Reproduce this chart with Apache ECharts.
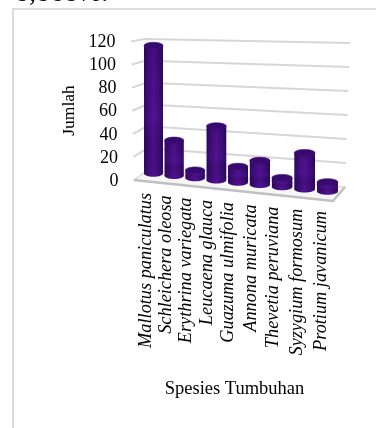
<!DOCTYPE html>
<html>
<head>
<meta charset="utf-8">
<style>html,body{margin:0;padding:0;background:#fff;overflow:hidden}#chart{width:376px;height:428px}</style>
<script src="https://cdn.jsdelivr.net/npm/echarts@6/dist/echarts.min.js"></script>
</head>
<body>
<div id="chart"></div>
<script>
// Jumlah individu per spesies tumbuhan
const categories = ['Mallotus paniculatus','Schleichera oleosa','Erythrina variegata','Leucaena glauca','Guazuma ulmifolia','Annona muricata','Thevetia peruviana','Syzygium formosum','Protium javanicum'];
const jumlah = [117, 32, 7, 48, 14, 21, 8, 31, 8];
const yTicks = [0, 20, 40, 60, 80, 100, 120];

const serif = '"Liberation Serif","Times New Roman",serif';
const yMax = 120;

// Tilted-box projection applied on top of the flat cartesian plot.
// u runs 0..1 across the plot width, f is value / yMax.
function backWall(u, f) {
  const base = 170 + 17 * u;
  const rise = 131 + 13 * u;
  return [148 + 197 * u + f * (-3 + 8 * u), base - f * rise];
}
function wallDepth(f) { return [-14, 10 - 7.5 * f]; }

function frontLeft(f) {
  const p = backWall(0, f), d = wallDepth(f);
  return [p[0] + d[0], p[1] + d[1]];
}

const wallSeries = {
  type: 'custom', z: 1, silent: true,
  data: yTicks.map(t => [0, t]),
  renderItem(params, api) {
    const v = api.value(1);
    const f = (api.coord([0, 0])[1] - api.coord([0, v])[1]) / params.coordSys.height;
    const a = frontLeft(f), b = backWall(0, f), c = backWall(1, f);
    const children = [];
    if (v > 0) {
      children.push({
        type: 'polyline',
        shape: { points: [a, b, c] },
        style: { fill: 'none', stroke: '#d6d6d6', lineWidth: 2 }
      });
    }
    children.push({
      type: 'text', x: a[0] - 15.5, y: a[1] + 1,
      style: { text: String(v), align: 'right', verticalAlign: 'middle', font: '18px ' + serif, fill: '#000' }
    });
    return { type: 'group', children };
  }
};

const floorSeries = {
  type: 'custom', z: 2, silent: true,
  data: [[0, 0]],
  renderItem() {
    const bl = backWall(0, 0), br = backWall(1, 0);
    const fl = [bl[0] - 14, bl[1] + 10], fr = [br[0] - 12, br[1] + 14];
    return {
      type: 'group',
      children: [
        { type: 'polygon', shape: { points: [bl, br, fr, fl] }, style: { fill: '#f6f6f6', stroke: '#d8d8d8', lineWidth: 1.5 } },
        { type: 'polyline', shape: { points: [fl, fr, br] }, style: { fill: 'none', stroke: '#c0c0c0', lineWidth: 2.4 } }
      ]
    };
  }
};

const barSeries = {
  type: 'custom', z: 3, silent: true,
  data: jumlah.map((v, i) => [i, v]),
  renderItem(params, api) {
    const t = api.value(0);
    const band = api.size([1, 0])[0];
    const cs = params.coordSys;
    const y0 = api.coord([t, 0])[1];
    const flatX = api.coord([t, 0])[0];
    const step = (flatX - cs.x) / band - 0.5;
    // Spacing, width and height grow slightly toward the near side of the box.
    const cx = 153.5 + 20.5 * step + 0.156 * step * step;
    const base = 173.5 + 2.25 * step;
    const k = (1.09 + 0.11 * (cx - cs.x) / cs.width) / (cs.height / yMax);
    const h = (y0 - api.coord([t, api.value(1)])[1]) * k;
    const rx = 9.5 + 0.12 * step, ry = 3.3;
    const top = base - h;
    const body = new echarts.graphic.LinearGradient(0, 0, 1, 0, [
      { offset: 0, color: '#2d0a5c' },
      { offset: 0.2, color: '#3f0c78' },
      { offset: 0.5, color: '#501290' },
      { offset: 0.8, color: '#3f0c78' },
      { offset: 1, color: '#2b0956' }
    ]);
    const mottle = new echarts.graphic.LinearGradient(0, 0, 0, 1, [
      { offset: 0, color: 'rgba(20,0,50,0.18)' },
      { offset: 0.3, color: 'rgba(20,0,50,0.02)' },
      { offset: 0.55, color: 'rgba(90,30,170,0.16)' },
      { offset: 0.75, color: 'rgba(20,0,50,0.16)' },
      { offset: 1, color: 'rgba(20,0,50,0.04)' }
    ]);
    return {
      type: 'group',
      children: [
        { type: 'ellipse', shape: { cx, cy: base, rx, ry }, style: { fill: body } },
        { type: 'rect', shape: { x: cx - rx, y: top, width: rx * 2, height: h }, style: { fill: body } },
        { type: 'rect', shape: { x: cx - rx, y: top, width: rx * 2, height: h }, style: { fill: mottle } },
        { type: 'ellipse', shape: { cx, cy: top, rx, ry }, style: { fill: '#370b6e', stroke: '#450f82', lineWidth: 0.6 } }
      ]
    };
  }
};

const labelSeries = {
  type: 'custom', z: 4, silent: true,
  data: categories.map((c, i) => [i, 0]),
  renderItem(params, api) {
    const t = api.value(0);
    const band = api.size([1, 0])[0];
    const step = (api.coord([t, 0])[0] - params.coordSys.x) / band - 0.5;
    return {
      type: 'text',
      x: 146 + 19.4 * step + 0.3125 * step * step,
      y: 193 + 2.25 * step,
      rotation: Math.PI / 2,
      style: { text: categories[t], align: 'right', verticalAlign: 'middle', font: 'italic 18.3px ' + serif, fill: '#000' }
    };
  }
};

const chart = echarts.init(document.getElementById('chart'), null, { renderer: 'canvas' });
chart.setOption({
  animation: false,
  backgroundColor: '#fff',
  grid: { left: 148, top: 40, width: 197, height: 133, containLabel: false },
  xAxis: { type: 'category', data: categories, show: false },
  yAxis: { type: 'value', min: 0, max: yMax, interval: 20, show: false },
  graphic: [
    { type: 'rect', z: -1, shape: { x: 13, y: 9, width: 420, height: 470 }, style: { fill: '#fff', stroke: '#dcdcdc', lineWidth: 2 } },
    { type: 'text', x: 15, y: -20, style: { text: '8,868%.', font: '28px ' + serif, fill: '#000', textBaseline: 'top' } },
    { type: 'text', x: 69, y: 110.5, rotation: Math.PI / 2, style: { text: 'Jumlah', font: '17.5px ' + serif, fill: '#000', align: 'center', verticalAlign: 'middle' } },
    { type: 'text', x: 234.5, y: 389, style: { text: 'Spesies Tumbuhan', font: '18.5px ' + serif, fill: '#000', align: 'center', verticalAlign: 'middle' } }
  ],
  series: [wallSeries, floorSeries, barSeries, labelSeries]
});
</script>
</body>
</html>
